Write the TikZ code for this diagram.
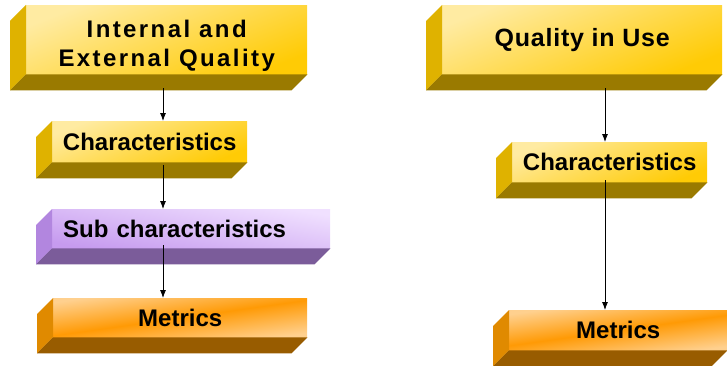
\documentclass[tikz,border=0pt]{standalone}
\usepackage{fontspec}
\setmainfont{Liberation Sans}
\usetikzlibrary{arrows.meta,calc}

\definecolor{goldlt}{HTML}{FFEBA2}
\definecolor{golddk}{HTML}{FFCB05}
\definecolor{goldside}{HTML}{DFB200}
\definecolor{goldbase}{HTML}{9A7A00}
\definecolor{lilaclt}{HTML}{F0E0FF}
\definecolor{lilacdk}{HTML}{C69BEF}
\definecolor{lilacside}{HTML}{B286DF}
\definecolor{lilacbase}{HTML}{7B5C9A}
\definecolor{orangelt}{HTML}{FFD08E}
\definecolor{orangemd}{HTML}{FF9A05}
\definecolor{orangeside}{HTML}{E08A00}
\definecolor{orangebase}{HTML}{985C00}

% left and bottom faces of a block
\newcommand{\slab}[3]{
  \fill[#2] (#1.north west) -- ++(-16,-16) -- ($(#1.south west)+(-16,-16)$) -- (#1.south west) -- cycle;
  \fill[#3] (#1.south west) -- ++(-16,-16) -- ($(#1.south east)+(-16,-16)$) -- (#1.south east) -- cycle;
}

\begin{document}
\begin{tikzpicture}[x=1pt,y=1pt,
  box/.style={anchor=north west, inner sep=0pt, minimum height=40pt, align=center,
    font=\bfseries\fontsize{24}{29}\selectfont},
  gold/.style={top color=goldlt, bottom color=golddk, shading angle=22},
  lilac/.style={top color=lilaclt, bottom color=lilacdk, shading angle=-10},
  amber/.style={top color=orangelt, bottom color=orangelt, middle color=orangemd, shading angle=8},
  link/.style={-{Latex[length=8pt,width=6pt]}, line width=0.8pt}]

        \useasboundingbox (0,0) rectangle (727,365);

        % Internal and external quality
        \node[box,gold,minimum width=281pt,minimum height=69pt] (ieq) at (26,360)
          {\rule{0pt}{30pt}\addfontfeature{LetterSpace=10}Internal and\\\addfontfeature{LetterSpace=10}External Quality};
        \node[box,gold,minimum width=195pt,minimum height=41pt] (char1) at (52,244) {Characteristics};
        \node[box,lilac,text width=256pt,inner xsep=11pt,minimum height=39pt,align=left] (sub) at (52,156) {Sub characteristics};
        \node[box,amber,minimum width=254pt,minimum height=39pt] (met1) at (53,67) {Metrics};

        % Quality in use
        \node[box,gold,minimum width=280pt,minimum height=69pt,font=\bfseries\fontsize{25}{29}\selectfont] (qiu) at (442,360)
          {\addfontfeature{LetterSpace=3}Quality in Use};
        \node[box,gold,minimum width=195pt] (char2) at (512,223) {Characteristics};
        \node[box,amber,minimum width=218pt] (met2) at (509,55) {Metrics};

        % Block sides
        \slab{ieq}{goldside}{goldbase}
        \slab{char1}{goldside}{goldbase}
        \slab{sub}{lilacside}{lilacbase}
        \slab{met1}{orangeside}{orangebase}
        \slab{qiu}{goldside}{goldbase}
        \slab{char2}{goldside}{goldbase}
        \slab{met2}{orangeside}{orangebase}

        % Arrows
        \coordinate (lcol) at (163,0);
        \coordinate (rcol) at (605,0);
        \draw[link] ($(ieq.south -| lcol)+(0,-14)$) -- (char1.north -| lcol);
        \draw[link] ($(char1.south -| lcol)+(0,-3)$) -- (sub.north -| lcol);
        \draw[link] ($(sub.south -| lcol)+(0,3)$) -- (met1.north -| lcol);
        \draw[link] ($(qiu.south -| rcol)+(0,-14)$) -- (char2.north -| rcol);
        \draw[link] ($(char2.south -| rcol)+(0,2)$) -- (met2.north -| rcol);

\end{tikzpicture}
\end{document}
